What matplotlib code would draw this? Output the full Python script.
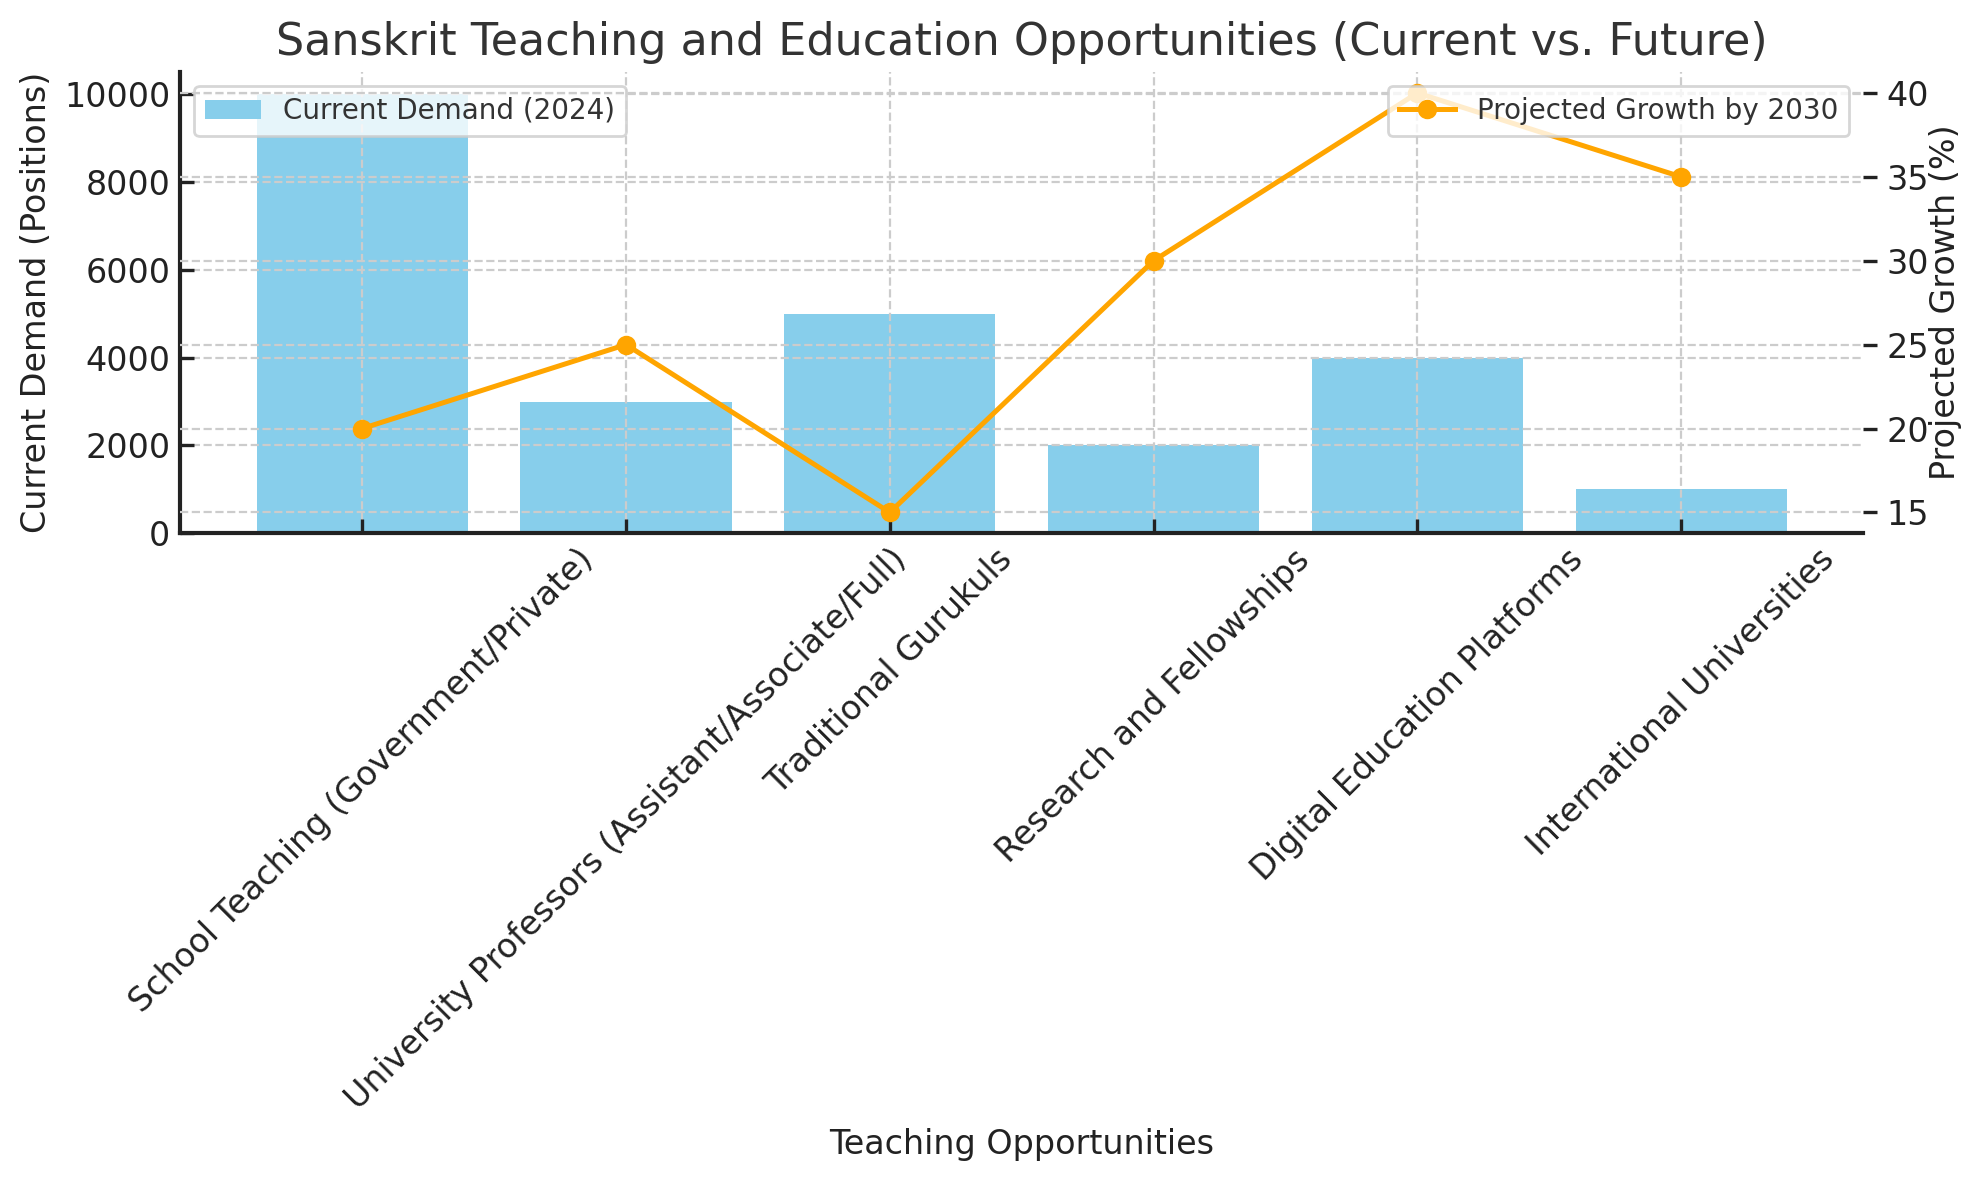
import matplotlib.pyplot as plt

# Demand vs. projected growth for Sanskrit teaching roles
categories = [
    'School Teaching (Government/Private)',
    'University Professors (Assistant/Associate/Full)',
    'Traditional Gurukuls',
    'Research and Fellowships',
    'Digital Education Platforms',
    'International Universities',
]
current_demand = [10000, 3000, 5000, 2000, 4000, 1000]
growth_2030 = [20, 25, 15, 30, 40, 35]

plt.rcParams['font.family'] = 'DejaVu Sans'
plt.rcParams['axes.edgecolor'] = '#222222'
plt.rcParams['axes.linewidth'] = 1.5
plt.rcParams['xtick.direction'] = 'in'
plt.rcParams['ytick.direction'] = 'in'
plt.rcParams['grid.color'] = '#cccccc'
plt.rcParams['grid.linestyle'] = '--'
plt.rcParams['grid.linewidth'] = 0.8

fig, ax1 = plt.subplots(figsize=(9.9, 5.9), dpi=200)
fig.subplots_adjust(left=0.091, right=0.941, bottom=0.548, top=0.939)

bars = ax1.bar(categories, current_demand, color='skyblue', label='Current Demand (2024)')
ax1.set_xlabel('Teaching Opportunities', fontsize=12, color='#222222')
ax1.set_ylabel('Current Demand (Positions)', fontsize=12, color='#222222')
ax1.tick_params(axis='both', labelsize=12, colors='#222222', length=5, width=1.2)
ax1.grid(True)
ax1.spines['top'].set_visible(False)
ax1.spines['right'].set_visible(False)
plt.setp(ax1.get_xticklabels(), rotation=45, ha='center')

ax2 = ax1.twinx()
ax2.plot(categories, growth_2030, color='orange', marker='o', linewidth=1.8,
         markersize=6, label='Projected Growth by 2030')
ax2.set_ylabel('Projected Growth (%)', fontsize=12, color='#222222', labelpad=0)
ax2.tick_params(axis='y', labelsize=12, colors='#222222', direction='out', length=5, width=1.2)
ax2.grid(True)
for side in ['top', 'right', 'left', 'bottom']:
    ax2.spines[side].set_visible(False)

ax1.legend(loc='upper left', fontsize=10, edgecolor='#cccccc', labelcolor='#333333')
ax2.legend(loc='upper right', fontsize=10, edgecolor='#cccccc', labelcolor='#333333')

ax1.set_title('Sanskrit Teaching and Education Opportunities (Current vs. Future)',
              fontsize=16, color='#333333')

plt.savefig('out.png')
